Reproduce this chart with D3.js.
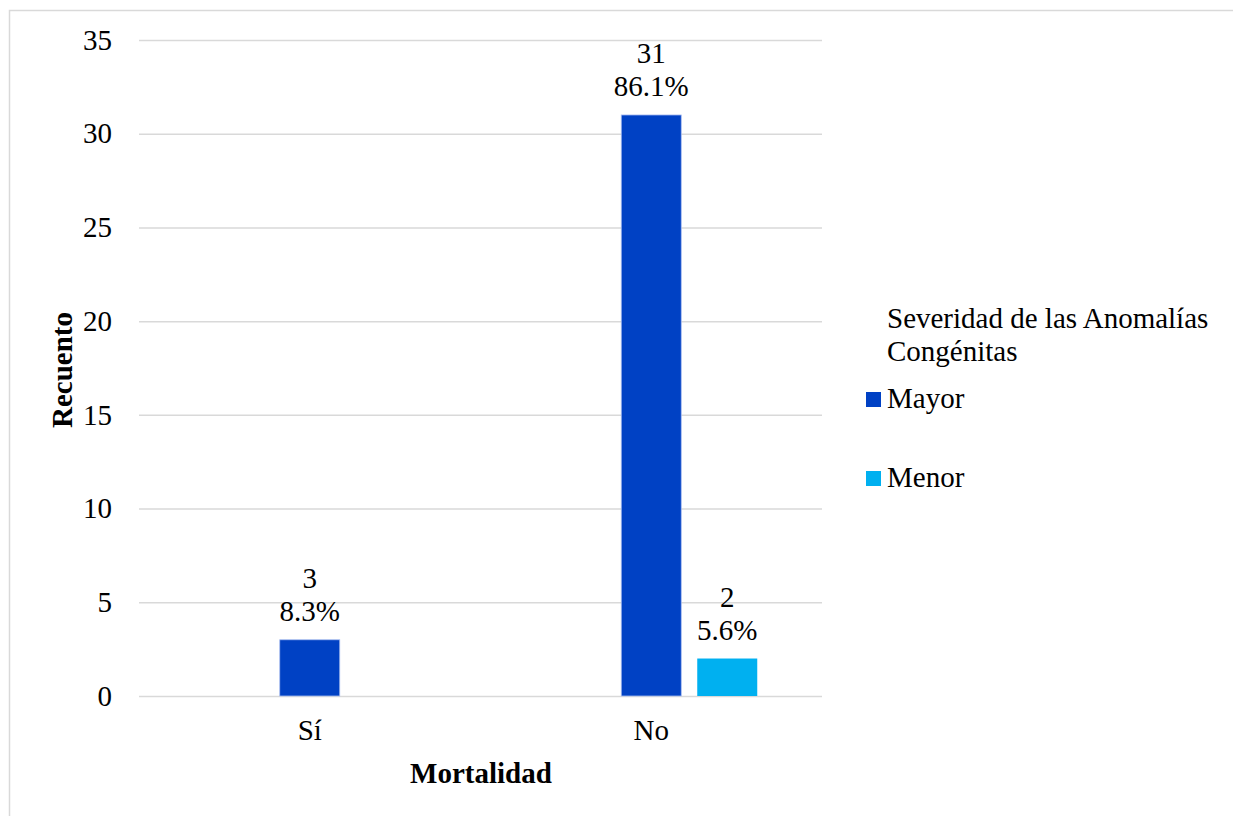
<!DOCTYPE html>
<html>
<head>
<meta charset="utf-8">
<script src="https://cdn.jsdelivr.net/npm/d3@7"></script>
<style>
  html, body { margin: 0; padding: 0; background: #fff; }
  svg { display: block; }
</style>
</head>
<body>
<svg id="chart" width="1233" height="816"></svg>
<script>
// Mortalidad vs severidad de las anomalías congénitas
const categories = ["Sí", "No"];
const seriesNames = ["Mayor", "Menor"];
const mayorValues = [3, 31];
const menorValues = [null, 2];
const mayorPercents = ["8.3%", "86.1%"];
const menorPercents = [null, "5.6%"];
const yTickValues = [0, 5, 10, 15, 20, 25, 30, 35];
const seriesColors = ["#0041C4", "#00B0F0"];
const seriesEdges = ["#a9bdf0", "none"];

const FONT_FAMILY = '"Liberation Serif", "Times New Roman", Times, serif';
const FONT = 29;

const svg = d3.select("#chart");

// chart frame
svg.append("rect")
  .attr("x", 9.5).attr("y", 10.5)
  .attr("width", 1260).attr("height", 840)
  .attr("fill", "none").attr("stroke", "#d9d9d9").attr("stroke-width", 1.5);

const plot = { left: 139, right: 822, top: 40, bottom: 696 };

const x0 = d3.scaleBand().domain(categories).range([plot.left, plot.right]);
const slot = 76;
const x1 = d3.scaleBand().domain(seriesNames).range([0, slot * seriesNames.length]);
const barW = 60;
const y = d3.scaleLinear().domain([0, 35]).range([plot.bottom, plot.top]);
const color = d3.scaleOrdinal().domain(seriesNames).range(seriesColors);
const edge = d3.scaleOrdinal().domain(seriesNames).range(seriesEdges);

// gridlines + y tick labels
const yAxis = d3.axisLeft(y).tickValues(yTickValues)
  .tickSize(-(plot.right - plot.left)).tickPadding(27).tickFormat(d3.format("d"));
const gy = svg.append("g").attr("transform", `translate(${plot.left},0)`).call(yAxis);
gy.select(".domain").remove();
gy.selectAll(".tick line").attr("stroke", "#d9d9d9").attr("stroke-width", 1.5);
gy.selectAll(".tick text")
  .style("font-family", FONT_FAMILY)
  .style("font-size", FONT + "px").attr("fill", "#000");

// category labels
const xAxis = d3.axisBottom(x0).tickSize(0).tickPadding(0);
const gx = svg.append("g").attr("transform", `translate(0,${plot.bottom})`).call(xAxis);
gx.select(".domain").remove();
gx.selectAll(".tick text")
  .attr("y", 44).attr("dy", null)
  .style("font-family", FONT_FAMILY)
  .style("font-size", FONT + "px").attr("fill", "#000");

// bar records
const bars = [];
categories.forEach((c, i) => {
  [[mayorValues, mayorPercents], [menorValues, menorPercents]].forEach(([vals, pcts], s) => {
    if (vals[i] != null) bars.push({ cat: c, series: seriesNames[s], value: vals[i], pct: pcts[i] });
  });
});

const barX = d => x0(d.cat) + x0.bandwidth() / 2 - slot / 2 + x1(d.series) + (slot - barW) / 2;

svg.append("g").selectAll("rect").data(bars).join("rect")
  .attr("x", barX)
  .attr("y", d => y(d.value))
  .attr("width", barW)
  .attr("height", d => y(0) - y(d.value))
  .attr("fill", d => color(d.series))
  .attr("stroke", d => edge(d.series))
  .attr("stroke-width", 0.8);

// value labels: count and percent
const lbl = svg.append("g").selectAll("text").data(bars).join("text")
  .attr("text-anchor", "middle")
  .style("font-family", FONT_FAMILY)
  .style("font-size", FONT + "px");
lbl.append("tspan")
  .attr("x", d => barX(d) + barW / 2)
  .attr("y", d => y(d.value) - 52)
  .text(d => d.value);
lbl.append("tspan")
  .attr("x", d => barX(d) + barW / 2)
  .attr("y", d => y(d.value) - 19)
  .text(d => d.pct);

// axis titles
svg.append("text")
  .attr("transform", "translate(72,370) rotate(-90)")
  .attr("text-anchor", "middle")
  .style("font-family", FONT_FAMILY)
  .style("font-size", FONT + "px").style("font-weight", "bold")
  .text("Recuento");
svg.append("text")
  .attr("x", 481).attr("y", 783)
  .attr("text-anchor", "middle")
  .style("font-family", FONT_FAMILY)
  .style("font-size", FONT + "px").style("font-weight", "bold")
  .text("Mortalidad");

// legend
const leg = svg.append("g");
leg.append("text").attr("x", 887).attr("y", 328)
  .style("font-family", FONT_FAMILY).style("font-size", FONT + "px")
  .text("Severidad de las Anomalías");
leg.append("text").attr("x", 887).attr("y", 361)
  .style("font-family", FONT_FAMILY).style("font-size", FONT + "px")
  .text("Congénitas");
const legY = d3.scalePoint().domain(seriesNames).range([408, 487]);
const items = leg.selectAll("g.item").data(seriesNames).join("g").attr("class", "item");
items.append("rect")
  .attr("x", 866).attr("y", d => legY(d) - 16)
  .attr("width", 15).attr("height", 15)
  .attr("fill", d => color(d));
items.append("text")
  .attr("x", 887).attr("y", d => legY(d))
  .style("font-family", FONT_FAMILY).style("font-size", FONT + "px")
  .text(d => d);
</script>
</body>
</html>
